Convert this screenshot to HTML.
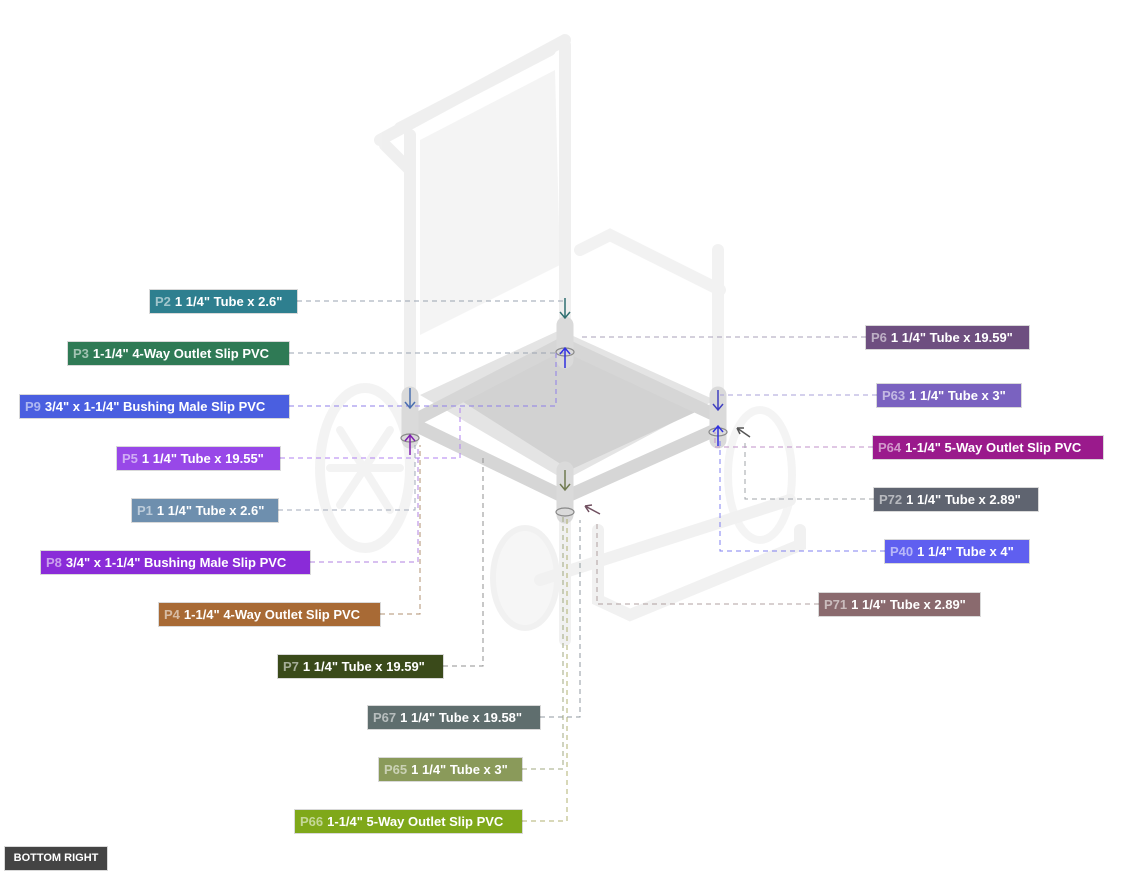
<!DOCTYPE html>
<html><head><meta charset="utf-8"><style>
html,body{margin:0;padding:0;background:#fff;}
body{width:1144px;height:875px;position:relative;overflow:hidden;font-family:"Liberation Sans",Arial,sans-serif;}
.l{position:absolute;height:23px;line-height:23px;color:#fff;font-weight:bold;font-size:13px;white-space:nowrap;padding:0 5px;box-sizing:border-box;box-shadow:0 0 0 1px rgba(0,0,0,0.15);}
.l b{opacity:.55;margin-right:4px;}
svg{position:absolute;left:0;top:0;}
</style></head><body>
<svg width="1144" height="875" viewBox="0 0 1144 875">
<g fill="none" stroke-linecap="round">
 <g opacity="0.6">
 <ellipse cx="365" cy="468" rx="45" ry="80" stroke="#ececec" stroke-width="10"/>
 <ellipse cx="525" cy="578" rx="32" ry="50" fill="#f1f1f1" stroke="#e9e9e9" stroke-width="6"/>
 <ellipse cx="760" cy="475" rx="32" ry="65" stroke="#eeeeee" stroke-width="8"/>
 <path d="M340 430 L390 510 M340 505 L390 430 M330 468 L400 468" stroke="#ececec" stroke-width="8"/>
 <polygon points="420,140 555,70 560,265 420,335" fill="#eeeeee" stroke="none"/>
 <path d="M410 135 L410 400 M565 45 L565 340 M380 140 L565 40 M385 145 L410 170 M400 128 L550 50" stroke="#e6e6e6" stroke-width="12"/>
 <path d="M580 250 L610 235 L720 290 M718 250 L718 400" stroke="#eaeaea" stroke-width="12"/>
 <path d="M540 580 L790 500 M598 530 L598 600 L630 615 L800 545 L800 530" stroke="#e8e8e8" stroke-width="12"/>
 <path d="M565 515 L565 640" stroke="#e8e8e8" stroke-width="12"/>
 </g>
 <polygon points="420,395 560,330 715,400 565,480" fill="#e4e4e4" stroke="none"/>
 <polygon points="460,400 560,350 700,410 570,470" fill="#d2d2d2" stroke="none"/>
 <path d="M415 420 L560 345 M565 345 L715 415 M415 425 L560 495 M570 495 L715 430" stroke="#d6d6d6" stroke-width="13"/>
 <path d="M410 395 L410 440 M565 325 L565 360 M718 395 L718 440 M565 470 L565 515" stroke="#dadada" stroke-width="17"/>
 <ellipse cx="410" cy="438" rx="9" ry="4" stroke="#888" stroke-width="1.2"/>
 <ellipse cx="565" cy="352" rx="9" ry="4" stroke="#888" stroke-width="1.2"/>
 <ellipse cx="718" cy="432" rx="9" ry="4" stroke="#888" stroke-width="1.2"/>
 <ellipse cx="565" cy="512" rx="9" ry="4" stroke="#888" stroke-width="1.2"/>
</g>
<g fill="none" stroke-width="1" stroke-dasharray="5,4">
 <path d="M297 301 H565" stroke="#9aa3b0"/>
 <path d="M289 353 H565" stroke="#9aa3b0"/>
 <path d="M289 406 H556 V352" stroke="#8f7fe8"/>
 <path d="M280 458 H460 V405" stroke="#b080f0"/>
 <path d="M278 510 H415 V445" stroke="#a0a8b8"/>
 <path d="M310 562 H418 V445" stroke="#b080e0"/>
 <path d="M380 614 H420 V445" stroke="#b09070"/>
 <path d="M443 666 H483 V455" stroke="#909090"/>
 <path d="M540 717 H580 V520" stroke="#909aa0"/>
 <path d="M522 769 H563 V515" stroke="#a0a880"/>
 <path d="M522 821 H567 V515" stroke="#b0b070"/>
 <path d="M866 337 H580" stroke="#a8a0b8"/>
 <path d="M877 395 H720" stroke="#a8a0d8"/>
 <path d="M873 447 H715 V432" stroke="#c090c8"/>
 <path d="M874 499 H745 V440" stroke="#a0a4aa"/>
 <path d="M885 551 H720 V440" stroke="#8080f0"/>
 <path d="M819 604 H597 V520" stroke="#b0a0a0"/>
</g>
<g fill="none" stroke-width="1.5">
 <path d="M565 298 V318 M560 312 L565 318 L570 312" stroke="#2e6f70"/>
 <path d="M565 368 V348 M560 354 L565 348 L570 354" stroke="#3030e0"/>
 <path d="M410 388 V408 M405 402 L410 408 L415 402" stroke="#4a6fb0"/>
 <path d="M410 455 V435 M405 441 L410 435 L415 441" stroke="#8020b0"/>
 <path d="M718 390 V410 M713 404 L718 410 L723 404" stroke="#4040c0"/>
 <path d="M718 446 V426 M713 432 L718 426 L723 432" stroke="#3030e0"/>
 <path d="M565 470 V490 M560 484 L565 490 L570 484" stroke="#707a50"/>
 <path d="M750 437 L737 428 M737 428 L744 428 M737 428 L740 434" stroke="#555"/>
 <path d="M600 514 L585 506 M585 506 L592 505 M585 506 L589 512" stroke="#705060"/>
</g>
</svg>
<div class="l" style="left:150px;top:290px;width:147px;background:#2e7f8f"><b>P2</b>1 1/4" Tube x 2.6"</div>
<div class="l" style="left:68px;top:342px;width:221px;background:#2f7a55"><b>P3</b>1-1/4" 4-Way Outlet Slip PVC</div>
<div class="l" style="left:20px;top:395px;width:269px;background:#4a5fe0"><b>P9</b>3/4" x 1-1/4" Bushing Male Slip PVC</div>
<div class="l" style="left:117px;top:447px;width:163px;background:#9848e8"><b>P5</b>1 1/4" Tube x 19.55"</div>
<div class="l" style="left:132px;top:499px;width:146px;background:#6e8fae"><b>P1</b>1 1/4" Tube x 2.6"</div>
<div class="l" style="left:41px;top:551px;width:269px;background:#8a2bd8"><b>P8</b>3/4" x 1-1/4" Bushing Male Slip PVC</div>
<div class="l" style="left:159px;top:603px;width:221px;background:#a86a35"><b>P4</b>1-1/4" 4-Way Outlet Slip PVC</div>
<div class="l" style="left:278px;top:655px;width:165px;background:#3a4a1a"><b>P7</b>1 1/4" Tube x 19.59"</div>
<div class="l" style="left:368px;top:706px;width:172px;background:#5f6e6e"><b>P67</b>1 1/4" Tube x 19.58"</div>
<div class="l" style="left:379px;top:758px;width:143px;background:#8a9a5a"><b>P65</b>1 1/4" Tube x 3"</div>
<div class="l" style="left:295px;top:810px;width:227px;background:#7fa81a"><b>P66</b>1-1/4" 5-Way Outlet Slip PVC</div>
<div class="l" style="left:866px;top:326px;width:163px;background:#6e4f80"><b>P6</b>1 1/4" Tube x 19.59"</div>
<div class="l" style="left:877px;top:384px;width:144px;background:#7a62c0"><b>P63</b>1 1/4" Tube x 3"</div>
<div class="l" style="left:873px;top:436px;width:230px;background:#9a1a8c"><b>P64</b>1-1/4" 5-Way Outlet Slip PVC</div>
<div class="l" style="left:874px;top:488px;width:164px;background:#5f6470"><b>P72</b>1 1/4" Tube x 2.89"</div>
<div class="l" style="left:885px;top:540px;width:144px;background:#5f5ff0"><b>P40</b>1 1/4" Tube x 4"</div>
<div class="l" style="left:819px;top:593px;width:161px;background:#8a6a6e"><b>P71</b>1 1/4" Tube x 2.89"</div>
<div class="l" style="left:5px;top:847px;width:102px;background:#444;font-size:11px;text-align:center">BOTTOM RIGHT</div>
</body></html>
